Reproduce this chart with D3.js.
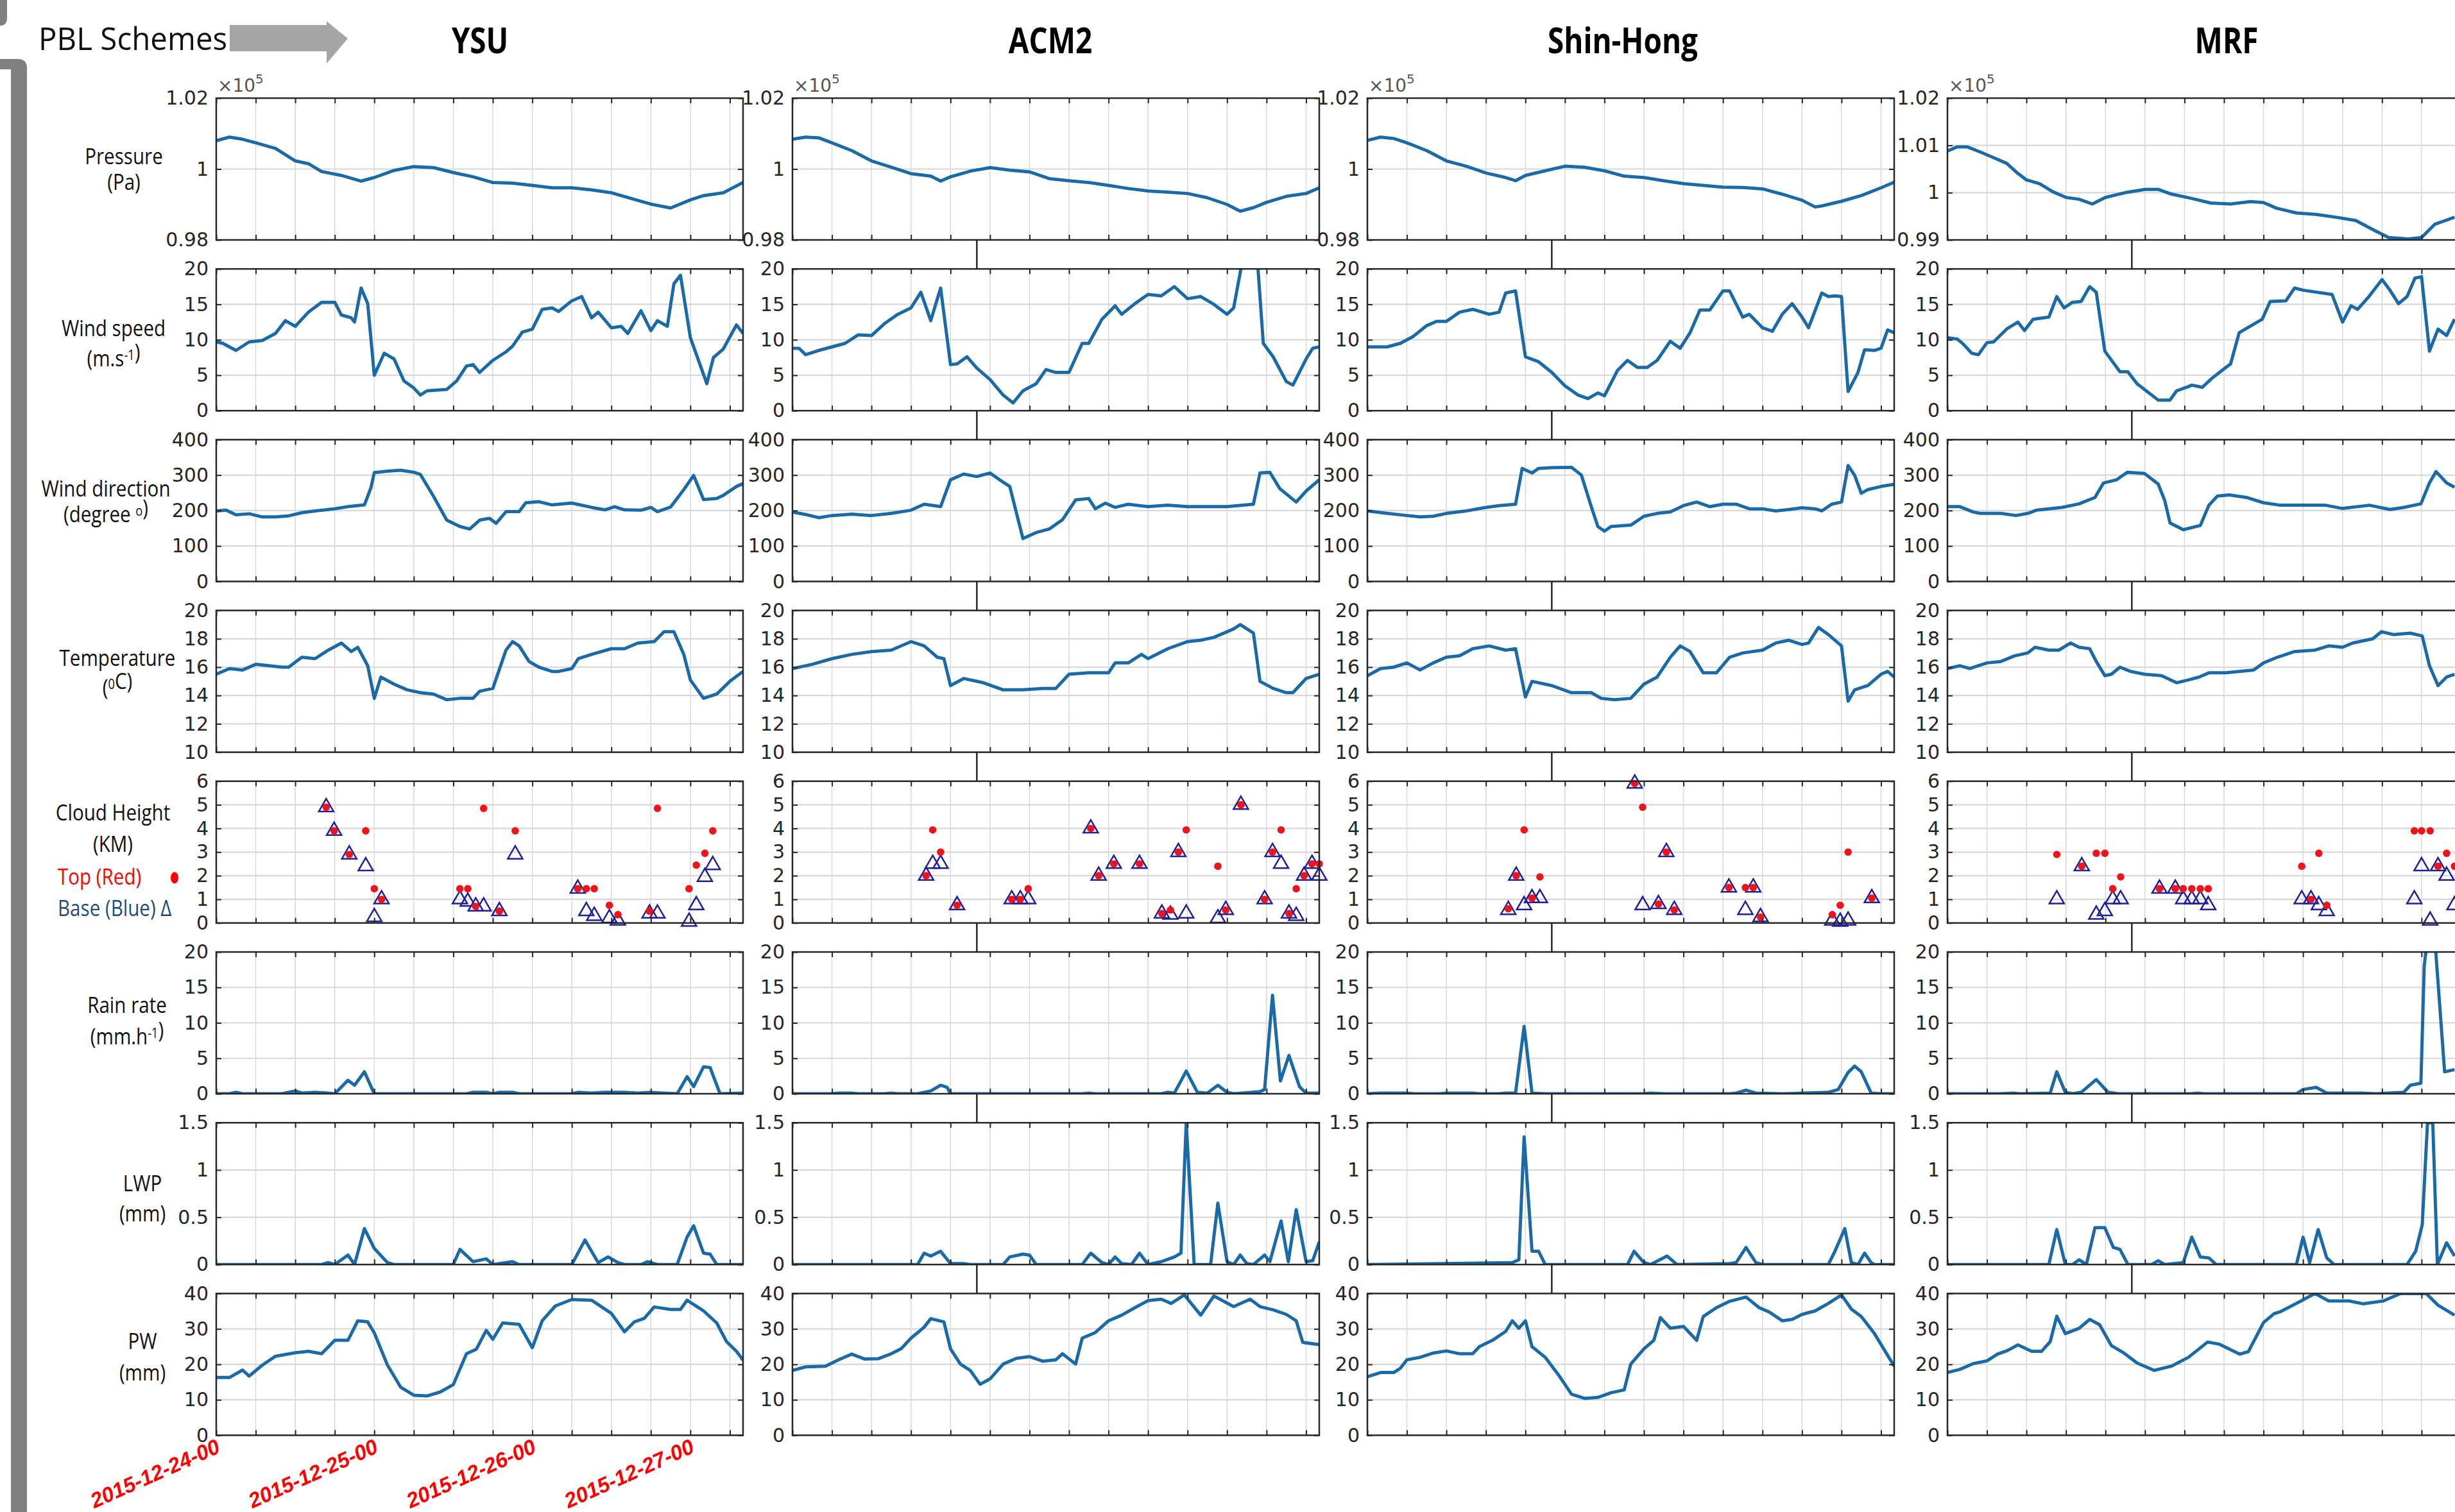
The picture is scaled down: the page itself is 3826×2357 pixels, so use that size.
<!DOCTYPE html>
<html>
<head>
<meta charset="utf-8">
<script src="https://cdn.jsdelivr.net/npm/d3@7"></script>
<style>
	html, body { margin: 0; padding: 0; background: #fff; overflow: hidden; }
</style>
</head>
<body>
<svg id="chart" width="3826" height="2357"></svg>
<script>
// ---- data: [hour since 2015-12-24 00, value] ----
const schemeNames = ['YSU', 'ACM2', 'Shin-Hong', 'MRF'];
const dateLabels = ['2015-12-24-00', '2015-12-25-00', '2015-12-26-00', '2015-12-27-00'];
const dateHours = [0, 24, 48, 72];
const hourTicks = [0, 6, 12, 18, 24, 30, 36, 42, 48, 54, 60, 66, 72, 78];

const pressureTicks = [0.98, 1, 1.02];
const mrfPressureTicks = [0.99, 1, 1.01, 1.02];
const windTicks = [0, 5, 10, 15, 20];
const windDirTicks = [0, 100, 200, 300, 400];
const tempTicks = [10, 12, 14, 16, 18, 20];
const cloudTicks = [0, 1, 2, 3, 4, 5, 6];
const rainTicks = [0, 5, 10, 15, 20];
const lwpTicks = [0, 0.5, 1, 1.5];
const pwTicks = [0, 10, 20, 30, 40];

// YSU
const ysuPressure = [[0,1.0080],[2,1.0090],[4,1.0084],[6,1.0074],[9,1.0058],[12,1.0023],[14,1.0015],[16,0.9993],[19,0.9982],[22,0.9966],[24,0.9976],[27,0.9996],[30,1.0007],[33,1.0004],[36,0.9990],[39,0.9978],[42,0.9962],[45,0.9960],[48,0.9954],[51,0.9947],[54,0.9947],[57,0.9941],[60,0.9933],[63,0.9917],[66,0.9901],[69,0.9890],[72,0.9913],[74,0.9925],[77,0.9933],[80,0.9962]];
const ysuWind = [[0,9.7],[1,9.5],[3,8.5],[5,9.7],[7,9.9],[9,10.9],[10.5,12.7],[12,11.9],[14,13.9],[16,15.3],[18,15.3],[19,13.5],[20.5,13.1],[21,12.5],[22,17.3],[23,15.1],[24,5.0],[25.5,8.1],[27,7.3],[28.5,4.2],[30,3.2],[31,2.2],[32,2.8],[35,3.0],[36.5,4.2],[38,6.3],[39,6.5],[40,5.4],[42,7.1],[44,8.3],[45,9.1],[46.5,11.1],[48,11.5],[49.5,14.3],[51,14.5],[52,14.0],[54,15.5],[55.5,16.1],[57,13.1],[58,13.9],[60,11.7],[61.5,11.9],[62.5,10.9],[64.5,14.1],[66,11.3],[67,12.7],[68.5,11.9],[69.5,17.9],[70.5,19.1],[72,10.3],[74.5,3.8],[75.5,7.5],[77,8.7],[79,12.1],[80,10.9]];
const ysuWindDir = [[0,199],[1.5,201],[3,188],[5,191],[7,182],[9,182],[11,185],[13,194],[15,199],[18,205],[20,211],[22.5,216],[23.5,265],[24,307],[26,311],[28,314],[30,308],[31,302],[33,240],[35,173],[37,155],[38.5,148],[40,173],[41.5,178],[42.5,164],[44,197],[46,197],[47,222],[49,225],[51,216],[54,221],[57,209],[59,202],[60.5,211],[62,202],[64.5,201],[66,209],[67,197],[69,210],[71,259],[72.5,299],[74,231],[76,234],[77,243],[79,268],[80,276]];
const ysuTemp = [[0,15.5],[2,15.9],[4,15.8],[6,16.2],[8,16.1],[10,16.0],[11,16.0],[13,16.7],[15,16.6],[17,17.2],[19,17.7],[20.5,17.1],[21.5,17.4],[23,16.1],[24,13.8],[25,15.3],[27,14.8],[29,14.4],[31,14.2],[33,14.1],[35,13.7],[37,13.8],[39,13.8],[40,14.3],[42,14.5],[44,17.2],[45,17.8],[46,17.5],[47.5,16.4],[49,16.0],[51,15.7],[52,15.7],[54,15.9],[55,16.6],[57,16.9],[60,17.3],[62,17.3],[64,17.7],[66.5,17.8],[68,18.5],[69.5,18.5],[71,16.9],[72,15.1],[74,13.8],[76,14.1],[78,15.0],[80,15.7]];
const ysuCloud = [[16.7,4.9,4.9],[17.9,3.9,3.9],[20.2,2.9,2.9],[22.7,3.9,2.4],[24,1.45,0.25],[25.1,1.0,1.0],[37,1.45,1.0],[38.2,1.45,0.9],[39.4,0.7,0.7],[40.6,4.85,0.7],[43,0.5,0.5],[45.4,3.9,2.9],[54.9,1.45,1.45],[56.2,1.45,0.5],[57.4,1.45,0.3],[59.7,0.75,0.2],[61,0.35,0.1],[65.8,0.5,0.4],[67,4.85,0.4],[71.8,1.45,0.05],[72.9,2.45,0.75],[74.2,2.95,1.95],[75.4,3.9,2.45]];
const ysuRain = [[0,0],[2,0],[3,0.2],[4,0],[10,0],[11,0.2],[12,0.4],[13,0.1],[15,0.2],[17,0.1],[18,0],[20,1.9],[21,1.2],[22.5,3.1],[24,0],[38,0],[39,0.2],[41,0.2],[42,0],[43,0.2],[45,0.2],[46,0],[54,0],[55,0.2],[57,0.1],[59,0.2],[62,0.2],[64,0.1],[66,0.2],[68,0.1],[70,0],[71.5,2.4],[72.5,1.0],[74,3.8],[75,3.7],[76.5,0],[80,0.1]];
const ysuLwp = [[0,0],[16,0],[17,0.02],[18,0],[20,0.1],[21,0],[22.5,0.38],[24,0.17],[26,0.02],[27,0],[36,0],[37,0.16],[39,0.03],[41,0.06],[42,0],[45,0.03],[46,0],[54,0],[56,0.26],[58,0.02],[59.5,0.08],[61,0.02],[62,0],[64.5,0],[65.5,0.03],[67,0],[70,0],[71.5,0.29],[72.5,0.41],[74,0.12],[75,0.11],[76,0],[80,0]];
const ysuPw = [[0,16.3],[2,16.3],[4,18.4],[5,16.7],[7,19.8],[9,22.3],[12,23.3],[14,23.7],[16,23.0],[18,26.8],[20,26.8],[21.5,32.3],[23,32.0],[24,28.9],[26,19.8],[28,13.6],[30,11.3],[32,11.1],[34,12.2],[36,14.3],[38,23.0],[39.5,24.3],[41,29.6],[42,27.1],[43.5,31.7],[46,31.3],[48,24.7],[49.5,32.3],[51.5,36.5],[54,38.3],[57,38.1],[60,34.4],[62,29.2],[63.5,32.0],[65,33.0],[66.5,36.2],[69,35.5],[70.5,35.5],[71.5,38.1],[74,35.1],[76,31.7],[77.5,26.4],[79,23.7],[80,21.2]];

// ACM2
const acm2Pressure = [[0,1.0084],[2,1.0090],[4,1.0088],[6,1.0074],[9,1.0052],[12,1.0023],[15,1.0005],[18,0.9987],[21,0.9980],[22.5,0.9966],[24,0.9978],[27,0.9994],[30,1.0004],[33,0.9997],[36,0.9992],[39,0.9973],[42,0.9967],[45,0.9962],[48,0.9954],[51,0.9945],[54,0.9938],[57,0.9935],[60,0.9931],[63,0.9919],[66,0.9900],[68,0.9881],[70,0.9891],[72,0.9906],[75,0.9923],[78,0.9931],[80,0.9947]];
const acm2Wind = [[0,8.8],[1,8.8],[2,7.9],[4,8.5],[6,9.0],[8,9.5],[10,10.7],[12,10.6],[14,12.3],[16,13.6],[18,14.5],[19.5,16.7],[21,12.7],[22.5,17.3],[24,6.5],[25,6.6],[26.5,7.6],[28,6.0],[30,4.4],[32,2.2],[33.5,1.1],[35,2.8],[37,3.8],[38.5,5.8],[40,5.4],[42,5.4],[44,9.5],[45,9.5],[47,12.9],[49,14.8],[50,13.6],[52,15.1],[54,16.4],[56,16.2],[58,17.5],[60,15.8],[62,16.1],[64,15.0],[66,13.6],[67,14.5],[68.5,22],[70,22],[70.7,20],[71.5,9.5],[73,7.6],[75,4.1],[76,3.6],[78,7.3],[79,8.8],[80,9.0]];
const acm2WindDir = [[0,196],[2,189],[4,180],[6,186],[9,190],[12,186],[15,192],[18,201],[20,218],[22.5,211],[24,287],[26,303],[28,296],[30,306],[32,280],[33,268],[35,121],[37,138],[39,148],[41,174],[43,230],[45,234],[46,205],[47.5,221],[49,209],[51,218],[54,211],[57,215],[60,211],[63,211],[66,211],[70,218],[71,306],[72.5,308],[74,262],[76.5,224],[78,255],[80,287]];
const acm2Temp = [[0,15.9],[3,16.2],[6,16.6],[9,16.9],[12,17.1],[15,17.2],[18,17.8],[20,17.5],[22,16.7],[23,16.6],[24,14.7],[26,15.2],[29,14.9],[32,14.4],[35,14.4],[38,14.5],[40,14.5],[42,15.5],[45,15.6],[48,15.6],[49,16.3],[51,16.3],[53,16.9],[54,16.6],[57,17.3],[60,17.8],[62,17.9],[64,18.1],[67,18.7],[68,19.0],[70,18.4],[71,15.0],[73,14.5],[75,14.2],[76,14.2],[78,15.2],[80,15.5]];
const acm2Cloud = [[20.3,2,2],[21.3,3.94,2.5],[22.5,3.0,2.5],[25,0.75,0.75],[33.3,1.0,1.0],[34.6,1.0,1.0],[35.8,1.45,1.0],[45.3,4.0,4.0],[46.5,2.0,2.0],[48.8,2.5,2.5],[52.7,2.5,2.5],[56.1,0.4,0.4],[57.4,0.55,0.35],[58.6,3.0,3.0],[59.8,3.94,0.4],[64.6,2.4,0.2],[65.8,0.55,0.55],[68.1,5.0,5.0],[71.7,1.0,1.0],[72.9,3.0,3.0],[74.2,3.94,2.5],[75.4,0.4,0.4],[76.5,1.45,0.3],[77.7,2.0,2.0],[78.9,2.5,2.5],[80,2.5,2.0]];
const acm2Rain = [[0,0],[6,0],[7,0.1],[9,0.1],[10,0],[14,0],[15,0.1],[16,0],[19,0],[21,0.4],[22.5,1.2],[23.5,0.9],[24,0],[44,0],[45,0.1],[46,0],[56,0],[57,0.2],[58,0.1],[59.8,3.2],[61.5,0.2],[63,0.1],[64.6,1.2],[66,0.2],[67,0],[71,0.3],[71.7,0.6],[72.9,13.9],[74.1,1.8],[75.4,5.4],[77,1.0],[78,0.1],[80,0.1]];
const acm2Lwp = [[0,0],[19,0],[20,0.12],[21,0.09],[22.5,0.14],[24,0.01],[26,0.01],[27,0],[32,0],[33,0.08],[35,0.11],[36,0.1],[37,0],[44,0],[45.3,0.12],[47,0.02],[48,0],[49,0.08],[50,0.01],[51.5,0],[52.7,0.12],[54,0],[56,0.03],[58,0.08],[59,0.12],[59.8,1.5],[61,0],[63.5,0],[64.6,0.65],[66,0.03],[67,0],[68,0.1],[69,0.01],[70,0],[71.7,0.1],[72.5,0.03],[74.2,0.46],[75.3,0.03],[76.5,0.58],[78,0.03],[79,0.04],[80,0.24]];
const acm2Pw = [[0,18.3],[2,19.3],[5,19.5],[7,21.3],[9,22.9],[11,21.5],[13,21.6],[15,23.0],[16.5,24.4],[18,27.4],[20,30.5],[21,32.9],[23,32.0],[24,24.4],[25.5,20.1],[27,18.3],[28.5,14.4],[30,15.9],[32,20.1],[34,21.7],[36,22.2],[38,20.9],[40,21.3],[41,23.0],[43,20.1],[44,27.4],[46,29.0],[48,32.3],[50,33.9],[52,36.0],[54,38.0],[56,38.4],[57.5,37.2],[59.5,39.6],[62,33.9],[64,39.3],[67,36.3],[69.5,38.4],[71,36.3],[73,35.4],[75,34.1],[76.5,32.3],[77.5,26.2],[80,25.6]];

// Shin-Hong
const shPressure = [[0,1.0081],[2,1.0090],[4,1.0086],[6,1.0074],[9,1.0052],[12,1.0023],[15,1.0008],[18,0.9989],[21,0.9976],[22.5,0.9967],[24,0.9982],[27,0.9995],[30,1.0008],[33,1.0005],[36,0.9995],[39,0.9980],[42,0.9976],[45,0.9967],[48,0.9959],[51,0.9954],[54,0.9949],[57,0.9948],[60,0.9944],[63,0.9929],[66,0.9912],[68,0.9893],[69,0.9896],[72,0.9909],[75,0.9925],[78,0.9947],[80,0.9963]];
const shWind = [[0,9.0],[3,9.0],[5,9.5],[7,10.5],[9,12.0],[10.5,12.6],[12,12.6],[14,13.9],[16,14.3],[18.5,13.6],[20,13.9],[21,16.6],[22.5,16.9],[24,7.6],[26,6.9],[28,5.4],[30,3.5],[32,2.2],[33.5,1.7],[35,2.5],[36,2.1],[38,5.7],[39.5,7.1],[41,6.1],[42.5,6.1],[44,7.1],[46,9.8],[47.5,8.8],[49,11.0],[50.5,14.2],[52,14.2],[54,16.9],[55,16.9],[57,13.2],[58,13.6],[60,11.7],[61.5,11.2],[63,13.6],[64.5,15.1],[66,13.2],[67,11.7],[69,16.6],[70,16.1],[71,16.2],[72,16.1],[73,2.7],[74.5,5.4],[75.5,8.6],[77,8.5],[78,8.8],[79,11.4],[80,11.0]];
const shWindDir = [[0,199],[3,192],[6,186],[8,182],[10,184],[12,192],[15,199],[18,209],[20,214],[22.5,218],[23.5,319],[25,306],[26,319],[28,321],[31,322],[32.5,300],[34,211],[35,155],[36,142],[37,155],[40,159],[42,184],[44,192],[46,196],[48,214],[50,224],[52,211],[54,218],[56,218],[58,205],[60,205],[62,199],[64,203],[66,208],[68,205],[69,199],[70.5,218],[72,224],[73,327],[74,299],[75,249],[76,259],[78,268],[80,274]];
const shTemp = [[0,15.4],[2,15.9],[4,16.0],[6,16.3],[8,15.8],[10,16.3],[12,16.7],[14,16.8],[16,17.3],[18.5,17.5],[21,17.2],[22.5,17.3],[24,13.9],[25,15.0],[28,14.7],[31,14.2],[34,14.2],[35.5,13.8],[37.5,13.7],[40,13.8],[42,14.8],[44,15.3],[46,16.7],[47.5,17.5],[49,17.1],[51,15.6],[53,15.6],[55,16.7],[57,17.0],[60,17.2],[62,17.7],[64,17.9],[66,17.6],[67,17.7],[68.5,18.8],[70,18.3],[72,17.5],[73,13.6],[74,14.4],[76,14.7],[78,15.5],[79,15.7],[80,15.3]];
const shCloud = [[21.4,0.6,0.55],[22.6,2.0,2.0],[23.8,3.94,0.75],[25,1.05,1.05],[26.2,1.95,1.05],[40.6,5.9,5.9],[41.8,4.9,0.75],[44.2,0.8,0.8],[45.4,3.0,3.0],[46.6,0.55,0.55],[54.9,1.5,1.5],[57.4,1.5,0.55],[58.6,1.5,1.5],[59.7,0.25,0.25],[70.6,0.35,0.1],[71.8,0.75,0.05],[73,3.0,0.1],[76.6,1.05,1.05]];
const shRain = [[0,0],[2,0.1],[6,0.1],[7,0],[11,0],[12,0.1],[16,0.1],[17,0],[20,0],[21,0.1],[22.5,0.1],[23.8,9.5],[25,0.1],[27,0],[42,0],[43,0.1],[45,0],[55,0],[56,0.1],[57.5,0.5],[59,0.1],[63,0],[70,0.2],[71.5,0.6],[73,3.0],[74,3.9],[75,3.1],[76.5,0.1],[78,0],[80,0]];
const shLwp = [[0,0],[22,0.02],[23,0.05],[23.8,1.35],[25,0.14],[26,0.14],[27,0],[39.5,0],[40.5,0.14],[42,0.02],[43,0],[45.5,0.09],[47,0],[55,0.01],[56,0.02],[57.5,0.18],[59,0.02],[60,0],[70,0],[71,0.14],[72.5,0.38],[73.5,0.02],[74.5,0],[75.5,0.12],[76.5,0.02],[77,0],[80,0]];
const shPw = [[0,16.5],[2,17.7],[4,17.7],[5,18.9],[6,21.3],[8,22.0],[10,23.2],[12,23.8],[14,23.0],[16,23.0],[17,25.0],[19,26.8],[21,29.3],[22,32.3],[23,30.2],[24,32.3],[25,25.0],[27,22.0],[29,17.1],[31,11.6],[33,10.4],[35,10.7],[37,12.0],[39,12.8],[40,20.1],[42,24.4],[43.5,26.8],[44.5,33.2],[46,30.2],[48,30.7],[50,26.8],[51,33.5],[53,36.0],[55,37.8],[57.5,39.0],[59.5,36.0],[61,34.8],[63,32.3],[64.5,32.7],[66,34.1],[68,35.1],[70,37.2],[72,39.6],[73.5,35.6],[75,33.5],[77,28.7],[80,19.5]];

// MRF (cut off at the right edge of the figure)
const mrfPressure = [[0,1.0088],[1.5,1.0097],[3,1.0097],[5,1.0086],[7,1.0074],[9,1.0062],[10.5,1.0043],[12,1.0027],[14,1.0019],[16,1.0002],[18,0.9990],[20,0.9986],[22,0.9976],[24,0.9990],[27,1.0],[30,1.0007],[32,1.0007],[34,0.9997],[37,0.9988],[40,0.9978],[43,0.9976],[46,0.9981],[48,0.9979],[50,0.9967],[53,0.9957],[56,0.9954],[59,0.9948],[62,0.9941],[65,0.9919],[67,0.9905],[70,0.9902],[72,0.9905],[74,0.9933],[77,0.9948]];
const mrfWind = [[0,10.3],[1.5,10.1],[2.4,9.4],[3.7,8.1],[4.7,7.9],[6,9.6],[7,9.7],[9.1,11.6],[10.7,12.5],[11.7,11.3],[13,12.9],[15.4,13.2],[16.6,16.1],[17.7,14.5],[19,15.3],[20.3,15.4],[21.6,17.5],[22.6,16.7],[23.9,8.4],[26.2,5.5],[27.4,5.5],[28.8,3.8],[32,1.5],[33.8,1.5],[34.8,2.8],[36.6,3.4],[37.1,3.6],[38.7,3.3],[40.2,4.6],[42,5.9],[43,6.6],[44.3,11.0],[46.5,12.2],[47.8,12.9],[49,15.4],[51.4,15.5],[52.7,17.3],[54,17.0],[58.4,16.4],[60,12.5],[61.3,14.8],[62.3,14.3],[64,16.1],[66,18.5],[67.2,17.0],[68.5,15.1],[69.8,16.1],[71,18.7],[72,18.9],[73.2,8.4],[74.5,11.5],[75.8,10.6],[77,12.9]];
const mrfWindDir = [[0,211],[1.9,211],[3.9,196],[5,192],[8.1,192],[10.4,186],[12.2,192],[13.5,201],[17.4,209],[20,219],[22.4,237],[23.7,278],[25.7,287],[27.3,308],[29.9,305],[32,275],[33,228],[33.8,165],[35.8,146],[38.4,158],[39.7,215],[41,241],[42.8,244],[45.4,237],[48,222],[50.6,215],[53.7,215],[57.4,215],[60,206],[64.1,215],[67.2,203],[69.3,209],[71.9,219],[73.2,278],[74.2,310],[75.8,278],[77,266]];
const mrfTemp = [[0,15.9],[1.9,16.1],[3.4,15.9],[6,16.3],[8.1,16.4],[10.2,16.8],[12.2,17.0],[13.3,17.4],[15.4,17.2],[16.9,17.2],[18.7,17.7],[20,17.4],[21.6,17.3],[22.6,16.4],[23.9,15.4],[24.9,15.5],[26.2,16.0],[27.8,15.7],[29.9,15.5],[32.5,15.4],[34.8,14.9],[36.6,15.1],[38.2,15.3],[39.7,15.6],[42.3,15.6],[46.5,15.8],[48,16.3],[50.1,16.7],[52.7,17.1],[55.8,17.2],[57.9,17.5],[60,17.4],[61.5,17.7],[64.6,18.0],[65.9,18.5],[67.7,18.3],[70.3,18.4],[72.1,18.2],[73.2,16.1],[74.5,14.7],[75.8,15.3],[77,15.5]];
const mrfCloud = [[16.6,2.9,1.0],[20.4,2.4,2.4],[22.6,2.95,0.35],[23.9,2.95,0.5],[25.1,1.45,1.0],[26.3,1.95,1.0],[32.2,1.45,1.45],[34.6,1.45,1.45],[35.8,1.45,1.0],[37.1,1.45,1.0],[38.4,1.45,1.0],[39.6,1.45,0.75],[53.8,2.4,1.0],[55.2,1.0,1.0],[56.4,2.95,0.75],[57.6,0.75,0.5],[70.9,3.9,1.0],[72,3.9,2.4],[73.3,3.9,0.1],[74.5,2.4,2.4],[75.8,2.95,2.0],[77,2.4,0.75]];
const mrfRain = [[0,0],[8,0],[10,0.1],[11,0],[15.6,0.1],[16.6,3.1],[17.9,0.2],[19,0],[20.3,0.2],[22.6,2.0],[24.4,0.2],[26,0],[37,0],[38,0.1],[39,0],[53,0],[54,0.6],[56,0.9],[57.6,0.1],[60,0.1],[63,0.1],[65,0],[69.3,0.2],[70.3,1.2],[71.9,1.5],[72.4,18],[72.9,22],[74,22],[75.5,3.1],[77,3.4]];
const mrfLwp = [[0,0],[15.4,0],[16.6,0.37],[17.9,0],[19,0],[20,0.05],[21.1,0],[22.4,0.39],[23.9,0.39],[25.2,0.18],[26.2,0.16],[27.4,0],[31,0],[32,0.04],[33,0],[35.8,0.02],[37.1,0.29],[38.4,0.08],[39.7,0.07],[40.8,0],[53,0],[54,0.29],[55,0.02],[56.3,0.37],[57.6,0.07],[58.7,0],[69.8,0],[71.1,0.14],[72.1,0.42],[72.9,1.5],[73.7,1.5],[74.4,0],[75.8,0.23],[77,0.09]];
const mrfPw = [[0,17.7],[1.9,18.6],[3.9,20.2],[6,21.0],[7.6,22.9],[9.1,23.9],[10.7,25.5],[12.8,23.7],[14.3,23.7],[15.6,26.4],[16.6,33.6],[17.9,28.7],[20,30.2],[21.6,32.7],[23.1,31.2],[24.9,25.3],[26.8,23.2],[28.8,20.4],[31.4,18.3],[34,19.5],[36.6,22.0],[39.5,26.3],[41.3,25.7],[44.4,22.9],[45.7,23.6],[48,31.8],[49.6,34.3],[50.6,34.9],[53.7,37.9],[55.8,40],[57.9,37.9],[61,37.9],[63.1,37.1],[66.2,37.9],[68.8,40],[72.7,40],[74.5,36.7],[77,33.9]];

// ---- build ----
const seriesByScheme = [
	{ pressure: ysuPressure, wind: ysuWind, windDir: ysuWindDir, temp: ysuTemp, cloud: ysuCloud, rain: ysuRain, lwp: ysuLwp, pw: ysuPw },
	{ pressure: acm2Pressure, wind: acm2Wind, windDir: acm2WindDir, temp: acm2Temp, cloud: acm2Cloud, rain: acm2Rain, lwp: acm2Lwp, pw: acm2Pw },
	{ pressure: shPressure, wind: shWind, windDir: shWindDir, temp: shTemp, cloud: shCloud, rain: shRain, lwp: shLwp, pw: shPw },
	{ pressure: mrfPressure, wind: mrfWind, windDir: mrfWindDir, temp: mrfTemp, cloud: mrfCloud, rain: mrfRain, lwp: mrfLwp, pw: mrfPw }
];

const rows = [
	{ key: 'pressure', ticks: pressureTicks },
	{ key: 'wind', ticks: windTicks },
	{ key: 'windDir', ticks: windDirTicks },
	{ key: 'temp', ticks: tempTicks },
	{ key: 'cloud', ticks: cloudTicks },
	{ key: 'rain', ticks: rainTicks },
	{ key: 'lwp', ticks: lwpTicks },
	{ key: 'pw', ticks: pwTicks }
];

const colLeft = [337, 1235, 2131, 3035];
const titleX = [748, 1637, 2529, 3470];
const panelW = 821;
const panelH = 221;
const rowTop = function(i) { return 153 + i * 266.2; };

const lineColor = '#1b6aa8';
const axisColor = '#262626';
const gridColor = '#d8d8d8';
const tickFont = "'DejaVu Sans', sans-serif";
const labelFont = "'Open Sans', sans-serif";

const svg = d3.select('#chart');
const defs = svg.append('defs');

// Left grey bracket
svg.append('path')
	.attr('d', 'M0,0 L11,0 L11,28 Q11,40 0,40 Z')
	.attr('fill', '#808080');
svg.append('path')
	.attr('d', 'M0,92 L28,92 Q42,92 42,106 L42,2357 L17,2357 L17,108 L0,108 Z')
	.attr('fill', '#808080');

// "PBL Schemes" + arrow
svg.append('g')
	.attr('transform', 'translate(60,78) scale(0.95,1)')
	.append('text')
	.attr('font-family', labelFont)
	.attr('font-size', 50)
	.attr('fill', '#111')
	.text('PBL Schemes');
svg.append('path')
	.attr('d', 'M358,39 L509,39 L509,33 L542,60 L509,99 L509,80 L358,80 Z')
	.attr('fill', '#a5a5a5');

schemeNames.forEach(function(name, ci) {
	svg.append('g')
		.attr('transform', 'translate(' + titleX[ci] + ',83) scale(0.82,1)')
		.append('text')
		.attr('text-anchor', 'middle')
		.attr('font-family', labelFont)
		.attr('font-weight', 'bold')
		.attr('font-size', 56)
		.attr('fill', '#000')
		.text(name);
});

schemeNames.forEach(function(name, ci) {
	const left = colLeft[ci];
	const x = d3.scaleLinear().domain([0, 80]).range([left, left + panelW]);
	const data = seriesByScheme[ci];

	rows.forEach(function(row, ri) {
		const top = rowTop(ri);
		const bottom = top + panelH;
		let ticks = row.ticks;
		if (name === 'MRF' && row.key === 'pressure') ticks = mrfPressureTicks;
		const y = d3.scaleLinear().domain(d3.extent(ticks)).range([bottom, top]);

		const g = svg.append('g');
		const clipId = 'clip-' + ci + '-' + ri;
		defs.append('clipPath').attr('id', clipId)
			.append('rect')
			.attr('x', left).attr('y', top)
			.attr('width', panelW).attr('height', panelH);

		// grid
		g.selectAll('line.vgrid').data(hourTicks.slice(1)).enter().append('line')
			.attr('x1', d => x(d)).attr('x2', d => x(d))
			.attr('y1', top).attr('y2', bottom)
			.attr('stroke', gridColor).attr('stroke-width', 1.5);
		g.selectAll('line.hgrid').data(ticks.slice(1, -1)).enter().append('line')
			.attr('x1', left).attr('x2', left + panelW)
			.attr('y1', d => y(d)).attr('y2', d => y(d))
			.attr('stroke', gridColor).attr('stroke-width', 2.2);

		// data
		if (row.key === 'cloud') {
			const tri = d3.symbol().type(d3.symbolTriangle).size(230);
			g.selectAll('path.base').data(data.cloud).enter().append('path')
				.attr('d', tri)
				.attr('transform', d => 'translate(' + x(d[0]) + ',' + y(d[2]) + ')')
				.attr('fill', 'none')
				.attr('stroke', '#20209a')
				.attr('stroke-width', 2.5);
			g.selectAll('circle.top').data(data.cloud).enter().append('circle')
				.attr('cx', d => x(d[0]))
				.attr('cy', d => y(d[1]))
				.attr('r', 5.8)
				.attr('fill', '#f0141a');
		} else {
			const line = d3.line().x(d => x(d[0])).y(d => y(d[1]));
			g.append('path')
				.datum(data[row.key])
				.attr('clip-path', 'url(#' + clipId + ')')
				.attr('d', line)
				.attr('fill', 'none')
				.attr('stroke', lineColor)
				.attr('stroke-width', 5)
				.attr('stroke-linejoin', 'round');
		}

		// axes, ticks pointing inward on all four sides
		g.append('g').attr('transform', 'translate(' + left + ',0)')
			.call(d3.axisLeft(y).tickValues(ticks).tickSize(-8).tickPadding(12).tickFormat(d => String(d)));
		g.append('g').attr('transform', 'translate(' + (left + panelW) + ',0)')
			.call(d3.axisRight(y).tickValues(ticks).tickSize(-8).tickFormat(''));
		g.append('g').attr('transform', 'translate(0,' + top + ')')
			.call(d3.axisTop(x).tickValues(hourTicks).tickSize(-8).tickFormat(''));
		g.append('g').attr('transform', 'translate(0,' + bottom + ')')
			.call(d3.axisBottom(x).tickValues(hourTicks).tickSize(-8).tickFormat(''));
		g.selectAll('.domain').remove();
		g.selectAll('.tick line').attr('stroke', axisColor).attr('stroke-width', 2);
		g.selectAll('.tick text')
			.attr('fill', axisColor)
			.style('font-family', tickFont)
			.style('font-size', '30px');

		g.append('rect')
			.attr('x', left).attr('y', top)
			.attr('width', panelW).attr('height', panelH)
			.attr('fill', 'none')
			.attr('stroke', axisColor)
			.attr('stroke-width', 2.5);

		// exponent label above the pressure panel
		if (row.key === 'pressure') {
			const t = svg.append('text')
				.attr('x', left + 2).attr('y', top - 10)
				.attr('font-family', tickFont)
				.attr('font-size', 28)
				.attr('fill', '#555');
			t.append('tspan').text('\u00d710');
			t.append('tspan').attr('dy', -13).attr('font-size', 20).text('5');
		}

		// short connector line between stacked panels
		if (ci > 0 && ri < rows.length - 1) {
			svg.append('line')
				.attr('x1', x(28)).attr('x2', x(28))
				.attr('y1', bottom).attr('y2', rowTop(ri + 1))
				.attr('stroke', axisColor).attr('stroke-width', 2.5);
		}

		// date labels under the first column
		if (ci === 0 && ri === rows.length - 1) {
			dateHours.forEach(function(h, k) {
				svg.append('text')
					.attr('transform', 'translate(' + (x(h) + 8) + ',' + (bottom + 26) + ') rotate(-24)')
					.attr('text-anchor', 'end')
					.attr('font-family', "'Liberation Sans', Arial, sans-serif")
					.attr('font-weight', 'bold')
					.attr('font-style', 'italic')
					.attr('font-size', 33)
					.attr('fill', '#ff0000')
					.text(dateLabels[k]);
			});
		}
	});
});

// Row labels at the far left
const rowLabelText = [
	[[['Pressure']], [['(Pa)']]],
	[[['Wind speed']], [['(m.s'], ['-1', 1], [')']]],
	[[['Wind direction']], [['(degree '], ['o', 1], [')']]],
	[[['Temperature']], [['('], ['0', 1], ['C)']]],
	[[['Cloud Height']], [['(KM)']]],
	[[['Rain rate']], [['(mm.h'], ['-1', 1], [')']]],
	[[['LWP']], [['(mm)']]],
	[[['PW']], [['(mm)']]]
];
const rowLabelLayout = [
	{ cx: 193, dy: [-8, 32] },
	{ cx: 177, dy: [-6, 41] },
	{ cx: 165, dy: [-22, 18] },
	{ cx: 183, dy: [-24, 22] },
	{ cx: 176, dy: [-49, 0] },
	{ cx: 198, dy: [-16, 33] },
	{ cx: 222, dy: [-4, 43] },
	{ cx: 222, dy: [-24, 25] }
];

function addLabelLine(x, yPos, parts, anchor, color) {
	const t = svg.append('g')
		.attr('transform', 'translate(' + x + ',' + yPos + ') scale(0.87,1)')
		.append('text')
		.attr('text-anchor', anchor)
		.attr('font-family', labelFont)
		.attr('font-size', 34)
		.attr('fill', color);
	parts.forEach(function(p) {
		if (p[1]) {
			t.append('tspan').attr('dy', -10).attr('font-size', 21).text(p[0]);
			t.append('tspan').attr('dy', 10).text('');
		} else {
			t.append('tspan').text(p[0]);
		}
	});
	return t;
}

rowLabelText.forEach(function(lines, ri) {
	const cy = rowTop(ri) + panelH / 2;
	const lay = rowLabelLayout[ri];
	lines.forEach(function(parts, li) {
		addLabelLine(lay.cx, cy + lay.dy[li], parts, 'middle', '#111');
	});
	if (ri === 4) {
		addLabelLine(90, cy + 51, [['Top (Red)']], 'start', '#ff0000');
		svg.append('ellipse')
			.attr('cx', 272).attr('cy', cy + 40)
			.attr('rx', 6).attr('ry', 9)
			.attr('fill', '#ff0000');
		addLabelLine(90, cy + 100, [['Base (Blue) \u0394']], 'start', '#1f4e79');
	}
});
</script>
</body>
</html>
